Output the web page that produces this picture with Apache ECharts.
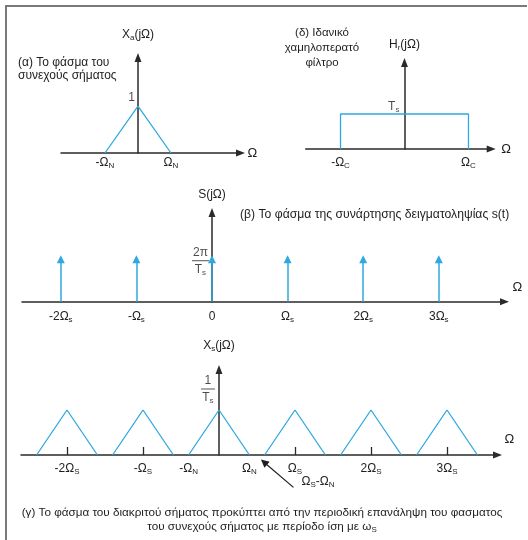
<!DOCTYPE html>
<html>
<head>
<meta charset="utf-8">
<script src="https://cdn.jsdelivr.net/npm/echarts@6/dist/echarts.min.js"></script>
<style>
  html, body { margin: 0; padding: 0; background: #fff; }
  #chart { width: 528px; height: 540px; }
</style>
</head>
<body>
<div id="chart"></div>
<script>
// (α) spectrum of the continuous signal: Ω in units of Ω_N, magnitude 1 at Ω = 0
const contNodes = [-1, 0, 1];
const contLevels = [0, 1, 0];
const contTickValues = [-1, 1];
const contTickLabels = ['-Ω{n|N}', 'Ω{n|N}'];

// (δ) ideal low-pass filter: cut-off ±Ω_C, gain T_s
const filterNodes = [-1, -1, 1, 1];
const filterLevels = [0, 1, 1, 0];
const filterTickValues = [-1, 1];
const filterTickLabels = ['-Ω{n|C}', 'Ω{n|C}'];

// (β) spectrum of the sampling function: impulses at kΩ_s of height 2π/T_s
const impulseOrders = [-2, -1, 0, 1, 2, 3];
const impulseHeight = 1;
const impulseTickLabels = ['-2Ω{n|s}', '-Ω{n|s}', '0', 'Ω{n|s}', '2Ω{n|s}', '3Ω{n|s}'];

// (γ) spectrum of the sampled signal: replicas at kΩ_S (Ω_S = 2.5 Ω_N), peak 1/T_s
const replicaOrders = [-2, -1, 0, 1, 2, 3];
const samplingRatio = 2.5;
const replicaHalfWidth = 1;
const replicaPeak = 1;
const replicaTickValues = [-5, -2.5, -1, 1, 2.5, 5, 7.5];
const replicaTickLabels = ['-2Ω{n|S}', '-Ω{n|S}', '-Ω{n|N}', 'Ω{n|N}', 'Ω{n|S}', '2Ω{n|S}', '3Ω{n|S}'];
const replicaMarkValues = [-5, -2.5, 2.5, 5, 7.5];

const FONT = '"Liberation Sans", Arial, Helvetica, sans-serif';
const INK = '#1e1e1e';
const AXIS = '#2a2a2a';
const BLUE = '#2ea9df';
const ARROW = 'path://M0,0L1,2.6L-1,2.6Z';

const subStyle = { fontSize: 8, lineHeight: 6, verticalAlign: 'bottom', fontFamily: FONT, color: INK };
const labelRich = {
  n: subStyle,
  num: { fontSize: 12, lineHeight: 13, align: 'center', fontFamily: FONT, color: INK },
  bar: { width: 17, height: 1, lineHeight: 4, backgroundColor: AXIS, align: 'center' },
  bar2: { width: 14, height: 1, lineHeight: 4, backgroundColor: AXIS, align: 'center' },
  den: { fontSize: 12, lineHeight: 14, align: 'center', fontFamily: FONT, color: INK },
  dn: { fontSize: 8, lineHeight: 6, verticalAlign: 'bottom', align: 'center', fontFamily: FONT, color: INK }
};

function labelMap(values, labels) {
  const m = {};
  values.forEach((v, i) => { m[String(v)] = labels[i]; });
  return v => m[String(v)] || '';
}

function xAxisOf(gi, min, max, values, labels, extra) {
  const e = extra || {};
  return {
    type: 'value', gridIndex: gi, min: min, max: max,
    splitLine: { show: false },
    axisLine: { show: true, onZero: true, symbol: ['none', ARROW], symbolSize: [7, 9],
      lineStyle: { color: AXIS, width: 1.5 } },
    axisTick: e.ticks ? { show: true, inside: true, length: 8, customValues: e.ticks,
      lineStyle: { color: AXIS, width: 1.3 } } : { show: false },
    axisLabel: { customValues: values, formatter: labelMap(values, labels), margin: e.margin,
      fontSize: 12, lineHeight: 14, fontFamily: FONT, color: INK, rich: labelRich },
    name: 'Ω', nameLocation: 'end', nameGap: e.nameGap,
    nameMoveOverlap: false,
    nameTextStyle: Object.assign({ fontSize: 13, fontFamily: FONT, color: INK }, e.nameStyle || {})
  };
}

function yAxisOf(gi, max, name, nameGap) {
  return {
    type: 'value', gridIndex: gi, min: 0, max: max,
    splitLine: { show: false },
    axisLine: { show: true, onZero: true, symbol: ['none', ARROW], symbolSize: [7, 9],
      lineStyle: { color: AXIS, width: 1.5 } },
    axisTick: { show: false },
    axisLabel: { show: false },
    name: name, nameLocation: 'end', nameGap: nameGap, nameMoveOverlap: false,
    nameTextStyle: { fontSize: 12, lineHeight: 14, fontFamily: FONT, color: INK, rich: labelRich }
  };
}

// value written beside the vertical axis at the given level
function levelMark(gi, level, str, labelOpts) {
  return {
    type: 'scatter', xAxisIndex: gi, yAxisIndex: gi, silent: true, z: 6,
    symbol: 'circle', symbolSize: 0.1, itemStyle: { color: 'transparent' },
    data: [[0, level]],
    label: Object.assign({ show: true, position: 'left', formatter: () => str,
      fontSize: 12, lineHeight: 14, fontFamily: FONT, color: INK, rich: labelRich }, labelOpts)
  };
}

const blueLine = { color: BLUE, width: 1.3 };

const series = [
  { type: 'line', xAxisIndex: 0, yAxisIndex: 0, symbol: 'none', lineStyle: blueLine, z: 3,
    data: contNodes.map((x, i) => [x, contLevels[i]]) },
  { type: 'line', xAxisIndex: 1, yAxisIndex: 1, symbol: 'none', lineStyle: blueLine, z: 3,
    data: filterNodes.map((x, i) => [x, filterLevels[i]]) },
  { type: 'lines', coordinateSystem: 'cartesian2d', xAxisIndex: 2, yAxisIndex: 2,
    symbol: ['none', ARROW], symbolSize: [6, 8], z: 5,
    lineStyle: { color: BLUE, width: 1.5, opacity: 1 },
    data: impulseOrders.map(k => ({ coords: [[k, 0], [k, impulseHeight]] })) },
  levelMark(0, contLevels[1], '1', { distance: 3, verticalAlign: 'bottom', offset: [0, -1] }),
  levelMark(1, filterLevels[1], 'T{n|s}', { distance: 4, verticalAlign: 'bottom', offset: [-1, 0] }),
  levelMark(2, impulseHeight, '{num|2π}\n{bar| }\n{den|T}{dn|s}', { distance: 3, verticalAlign: 'middle', offset: [0, 2] }),
  levelMark(3, replicaPeak, '{num|1}\n{bar2| }\n{den|T}{dn|s}', { distance: 4, verticalAlign: 'bottom', offset: [0, -5] })
];

replicaOrders.forEach(k => {
  const c = k * samplingRatio;
  series.push({ type: 'line', xAxisIndex: 3, yAxisIndex: 3, symbol: 'none', lineStyle: blueLine, z: 3,
    data: [[c - replicaHalfWidth, 0], [c, replicaPeak], [c + replicaHalfWidth, 0]] });
});

// pointer to the edge of the first replica, Ω_S - Ω_N
const edge = samplingRatio - replicaHalfWidth;
series.push({ type: 'lines', coordinateSystem: 'cartesian2d', xAxisIndex: 3, yAxisIndex: 3,
  clip: false, symbol: ['none', ARROW], symbolSize: [6, 8], z: 5,
  lineStyle: { color: INK, width: 1.2, opacity: 1 },
  data: [{ coords: [[edge + 0.95, -0.72], [edge - 0.02, -0.16]] }] });

function text(x, y, str, align, vAlign, size, lh) {
  return { type: 'text', x: x, y: y, silent: true,
    style: { text: str, align: align, verticalAlign: vAlign, textAlign: align, textVerticalAlign: vAlign,
      fontSize: size || 12, fontFamily: FONT, fill: INK, lineHeight: lh || 14, rich: labelRich } };
}

const option = {
  animation: false,
  backgroundColor: '#fff',
  grid: [
    { left: 61, top: 57.5, width: 179.5, height: 95.5, outerBoundsMode: 'none' },
    { left: 305.7, top: 62.5, width: 185.5, height: 86.5, outerBoundsMode: 'none' },
    { left: 22, top: 212.5, width: 482.5, height: 89.2, outerBoundsMode: 'none' },
    { left: 21, top: 369.5, width: 476.5, height: 85.5, outerBoundsMode: 'none' }
  ],
  xAxis: [
    xAxisOf(0, -2.333, 3.106, contTickValues, contTickLabels, { margin: 3, nameGap: 7 }),
    xAxisOf(1, -1.544, 1.355, filterTickValues, filterTickLabels, { margin: 7, nameGap: 10 }),
    xAxisOf(2, -2.513, 3.869, impulseOrders, impulseTickLabels,
      { margin: 8, nameGap: 8, nameStyle: { verticalAlign: 'bottom', padding: [0, 0, 8, 0] } }),
    xAxisOf(3, -6.513, 9.161, replicaTickValues, replicaTickLabels,
      { margin: 7, nameGap: 7, ticks: replicaMarkValues, nameStyle: { verticalAlign: 'bottom', padding: [0, 0, 9, 0] } })
  ],
  yAxis: [
    yAxisOf(0, 2.032, 'X{n|a}(jΩ)', 16),
    yAxisOf(1, 2.471, 'H{n|r}(jΩ)', 11),
    yAxisOf(2, 2.099, 'S(jΩ)', 11),
    yAxisOf(3, 1.9, 'X{n|s}(jΩ)', 17)
  ],
  series: series,
  graphic: [
    { type: 'line', silent: true, shape: { x1: 6, y1: 6, x2: 527, y2: 6 }, style: { stroke: '#7a7a7a', lineWidth: 2 } },
    { type: 'line', silent: true, shape: { x1: 6, y1: 5, x2: 6, y2: 540 }, style: { stroke: '#7a7a7a', lineWidth: 2 } },
    text(18, 69, '(α) Το φάσμα του\nσυνεχούς σήματος', 'left', 'middle', 12, 13),
    text(322, 48, '(δ) Ιδανικό\nχαμηλοπερατό\nφίλτρο', 'center', 'middle', 11.5, 15),
    text(240, 215, '(β) Το φάσμα της συνάρτησης δειγματοληψίας s(t)', 'left', 'middle', 12.2),
    text(318, 482, 'Ω{n|S}-Ω{n|N}', 'center', 'middle', 12),
    text(262, 513, '(γ) Το φάσμα του διακριτού σήματος προκύπτει από την περιοδική επανάληψη του φασματος', 'center', 'middle', 11.7),
    text(262, 527, 'του συνεχούς σήματος με περίοδο ίση με ω{n|S}', 'center', 'middle', 11.7)
  ]
};

const chart = echarts.init(document.getElementById('chart'), null, { renderer: 'canvas' });
chart.setOption(option);
</script>
</body>
</html>
